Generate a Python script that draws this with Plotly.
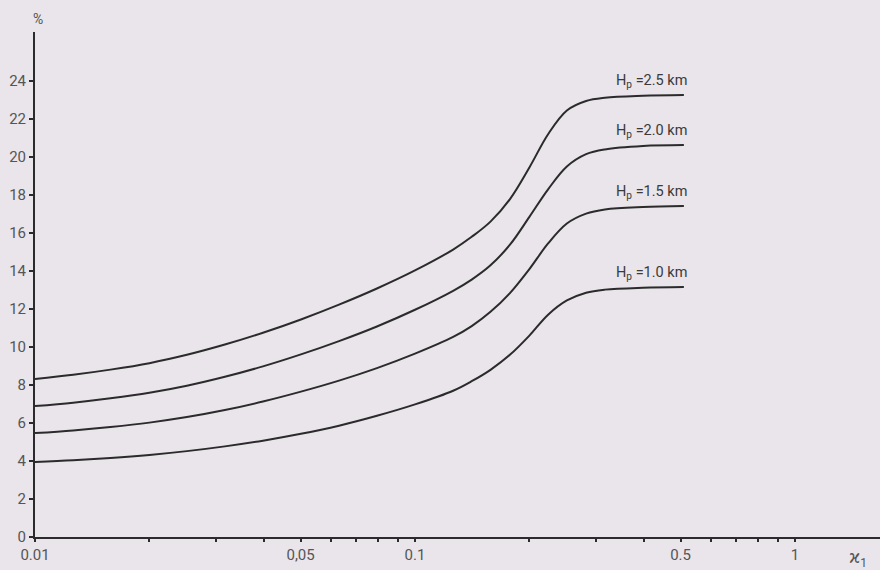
import math
import plotly.graph_objects as go

# kappa_1 sample positions (log-spaced) shared by all curves
kappa = [0.01, 0.0126, 0.0158, 0.02, 0.0251, 0.0316, 0.0398, 0.0501, 0.0631, 0.0794,
         0.1, 0.126, 0.141, 0.158, 0.178, 0.2, 0.224, 0.251, 0.282, 0.316, 0.398, 0.51]

# Relative value (%) for each height H_p
pct_25 = [8.32, 8.54, 8.81, 9.15, 9.59, 10.13, 10.75, 11.45, 12.23, 13.08,
          14.03, 15.13, 15.8, 16.6, 17.8, 19.45, 21.2, 22.45, 22.95, 23.12, 23.22, 23.26]
pct_20 = [6.89, 7.07, 7.3, 7.59, 7.96, 8.43, 8.98, 9.61, 10.31, 11.08,
          11.96, 12.96, 13.55, 14.3, 15.4, 16.85, 18.3, 19.5, 20.15, 20.4, 20.58, 20.63]
pct_15 = [5.47, 5.61, 5.79, 6.02, 6.31, 6.68, 7.13, 7.65, 8.23, 8.89,
          9.65, 10.53, 11.1, 11.85, 12.85, 14.1, 15.45, 16.5, 17.02, 17.24, 17.37, 17.42]
pct_10 = [3.95, 4.04, 4.16, 4.32, 4.52, 4.77, 5.07, 5.43, 5.86, 6.38,
          6.98, 7.7, 8.2, 8.8, 9.6, 10.6, 11.7, 12.45, 12.86, 13.02, 13.12, 13.16]

heights = ["2.5", "2.0", "1.5", "1.0"]
curves = [pct_25, pct_20, pct_15, pct_10]

# labelled ticks on the log axis; unlabelled ticks at every 1..9 step
x_tick_vals = [0.01, 0.05, 0.1, 0.5, 1]
x_tick_text = ["0.01", "0,05", "0.1", "0.5", "1"]
x_minor_vals = [0.02, 0.03, 0.04, 0.06, 0.07, 0.08, 0.09,
                0.2, 0.3, 0.4, 0.6, 0.7, 0.8, 0.9]
y_tick_vals = [0, 2, 4, 6, 8, 10, 12, 14, 16, 18, 20, 22, 24]

paper = "#e9e5ea"
ink = "#2b2b2b"
text_col = "#555555"
font_family = "Roboto, 'DejaVu Sans', sans-serif"

fig = go.Figure()
for h, ys in zip(heights, curves):
    fig.add_trace(go.Scatter(
        x=kappa, y=ys, mode="lines", name=f"H_p={h} km",
        line=dict(color=ink, width=2, shape="spline", smoothing=1.0),
        showlegend=False, hoverinfo="skip",
    ))
    # label sits just above the plateau, right-aligned to the curve end
    fig.add_annotation(
        x=math.log10(0.525), y=ys[-1] + 0.75, xref="x", yref="y",
        text=f"H<sub>p</sub> ={h} km", showarrow=False,
        xanchor="right", yanchor="middle",
        font=dict(family=font_family, size=14.5, color="#3a3a3a"),
    )

fig.update_layout(
    width=880, height=570,
    margin=dict(l=35, r=0, t=32, b=33),
    paper_bgcolor=paper, plot_bgcolor=paper,
    font=dict(family=font_family, size=15, color=text_col),
    xaxis=dict(
        type="log", range=[-2, 0.2237],
        tickvals=x_tick_vals, ticktext=x_tick_text,
        showgrid=False, zeroline=False,
        showline=True, linecolor=ink, linewidth=2,
        ticks="outside", ticklen=3, tickwidth=1.5, tickcolor=ink,
        tickfont=dict(size=15, color=text_col),
        minor=dict(tickvals=x_minor_vals, ticks="outside", ticklen=3,
                   tickwidth=1.5, tickcolor=ink, showgrid=False),
    ),
    yaxis=dict(
        range=[0, 26.58], tickvals=y_tick_vals,
        showgrid=False, zeroline=False,
        showline=True, linecolor=ink, linewidth=2,
        ticks="outside", ticklen=4, tickwidth=1.5, tickcolor=ink,
        tickfont=dict(size=15, color=text_col),
    ),
)

# unit of the y axis above its top end, variable name at the end of the x axis
fig.add_annotation(
    x=3 / 845, y=(537 - 19) / 505, xref="paper", yref="paper",
    text="%", showarrow=False, xanchor="center", yanchor="middle",
    font=dict(family=font_family, size=14, color=text_col),
)
fig.add_annotation(
    x=(858 - 35) / 845, y=-(558 - 537) / 505, xref="paper", yref="paper",
    text="ϰ<sub>1</sub>", showarrow=False, xanchor="center", yanchor="middle",
    font=dict(family=font_family, size=17, color=text_col),
)

fig.write_html("out.html")
